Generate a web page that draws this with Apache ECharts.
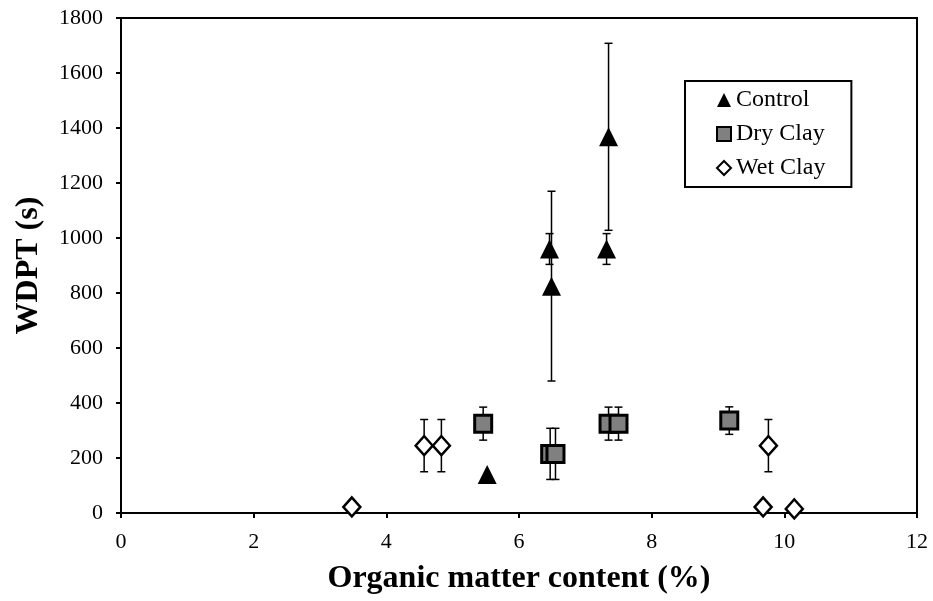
<!DOCTYPE html>
<html>
<head>
<meta charset="utf-8">
<script src="https://cdn.jsdelivr.net/npm/echarts@6/dist/echarts.min.js"></script>
<style>html,body{margin:0;padding:0;background:#fff;}#chart{width:933px;height:601px;}</style>
</head>
<body>
<div id="chart"></div>
<script>
// Data
var seriesNames = ['Control', 'Dry Clay', 'Wet Clay'];

var controlX   = [5.52, 6.46, 6.49, 7.35, 7.32];
var controlY   = [140, 960, 825, 1368, 960];
var controlErr = [0, 56, 345, 340, 56];

var dryX   = [5.46, 6.47, 6.55, 7.35, 7.50, 9.17];
var dryY   = [325, 215, 215, 325, 325, 336];
var dryErr = [60, 93, 93, 60, 60, 50];

var wetX   = [3.48, 4.57, 4.83, 9.76, 9.68, 10.15];
var wetY   = [22, 245, 245, 245, 22, 15];
var wetErr = [0, 95, 95, 95, 0, 0];

var xTicks = [0, 2, 4, 6, 8, 10, 12];
var yTicks = [0, 200, 400, 600, 800, 1000, 1200, 1400, 1600, 1800];

function pts(xs, ys) { return xs.map(function (x, i) { return [x, ys[i]]; }); }
function errPts(xs, ys, es) { return xs.map(function (x, i) { return [x, ys[i], es[i]]; }); }

function errorBarRender(params, api) {
  var x = api.value(0), y = api.value(1), e = api.value(2);
  if (!e) return null;
  var top = api.coord([x, y + e]);
  var bot = api.coord([x, y - e]);
  var cap = 4;
  var st = { stroke: '#000', lineWidth: 1.5 };
  return {
    type: 'group',
    children: [
      { type: 'line', shape: { x1: top[0], y1: top[1], x2: bot[0], y2: bot[1] }, style: st },
      { type: 'line', shape: { x1: top[0] - cap, y1: top[1], x2: top[0] + cap, y2: top[1] }, style: st },
      { type: 'line', shape: { x1: bot[0] - cap, y1: bot[1], x2: bot[0] + cap, y2: bot[1] }, style: st }
    ]
  };
}

var font = 'Liberation Serif, Times New Roman, serif';
var chart = echarts.init(document.getElementById('chart'));
chart.setOption({
  backgroundColor: '#fff',
  animation: false,
  grid: { left: 121, right: 16, top: 18, bottom: 88, show: true, borderColor: '#000', borderWidth: 2, backgroundColor: 'transparent' },
  legend: {
    orient: 'vertical', left: 685, top: 81,
    data: seriesNames,
    padding: [7, 26, 7, 31],
    itemGap: 10, itemWidth: 14, itemHeight: 14,
    borderColor: '#000', borderWidth: 2,
    textStyle: { fontFamily: font, fontSize: 24, color: '#000' }
  },
  xAxis: {
    type: 'value', min: 0, max: 12, interval: 2,
    name: 'Organic matter content (%)', nameLocation: 'middle', nameGap: 50,
    nameTextStyle: { fontFamily: font, fontSize: 32, fontWeight: 'bold', color: '#000' },
    axisLine: { show: true, lineStyle: { color: '#000', width: 2 } },
    axisTick: { show: true, inside: false, length: 5, lineStyle: { color: '#000', width: 2 } },
    axisLabel: { fontFamily: font, fontSize: 22, color: '#000', margin: 18,
      formatter: function (v) { return xTicks.indexOf(v) >= 0 ? String(v) : ''; } },
    splitLine: { show: false }
  },
  yAxis: {
    type: 'value', min: 0, max: 1800, interval: 200,
    name: 'WDPT (s)', nameLocation: 'middle', nameGap: 76,
    nameTextStyle: { fontFamily: font, fontSize: 32, fontWeight: 'bold', color: '#000' },
    axisLine: { show: true, lineStyle: { color: '#000', width: 2 } },
    axisTick: { show: true, inside: false, length: 5, lineStyle: { color: '#000', width: 2 } },
    axisLabel: { fontFamily: font, fontSize: 22, color: '#000', margin: 18,
      formatter: function (v) { return yTicks.indexOf(v) >= 0 ? String(v) : ''; } },
    splitLine: { show: false }
  },
  series: [
    { type: 'custom', name: 'errC', renderItem: errorBarRender, data: errPts(controlX, controlY, controlErr), z: 1, silent: true },
    { type: 'custom', name: 'errD', renderItem: errorBarRender, data: errPts(dryX, dryY, dryErr), z: 1, silent: true },
    { type: 'custom', name: 'errW', renderItem: errorBarRender, data: errPts(wetX, wetY, wetErr), z: 1, silent: true },
    { type: 'scatter', name: 'Control', data: pts(controlX, controlY), symbol: 'triangle', symbolSize: [19, 19],
      itemStyle: { color: '#000', borderColor: '#000', borderWidth: 0, opacity: 1 }, z: 3 },
    { type: 'scatter', name: 'Dry Clay', data: pts(dryX, dryY), symbol: 'rect', symbolSize: 17,
      itemStyle: { color: '#808080', borderColor: '#000', borderWidth: 3, opacity: 1 }, z: 3 },
    { type: 'scatter', name: 'Wet Clay', data: pts(wetX, wetY), symbol: 'diamond', symbolSize: [17, 19],
      itemStyle: { color: '#fff', borderColor: '#000', borderWidth: 2.5, opacity: 1 }, z: 3 }
  ]
});
</script>
</body>
</html>
